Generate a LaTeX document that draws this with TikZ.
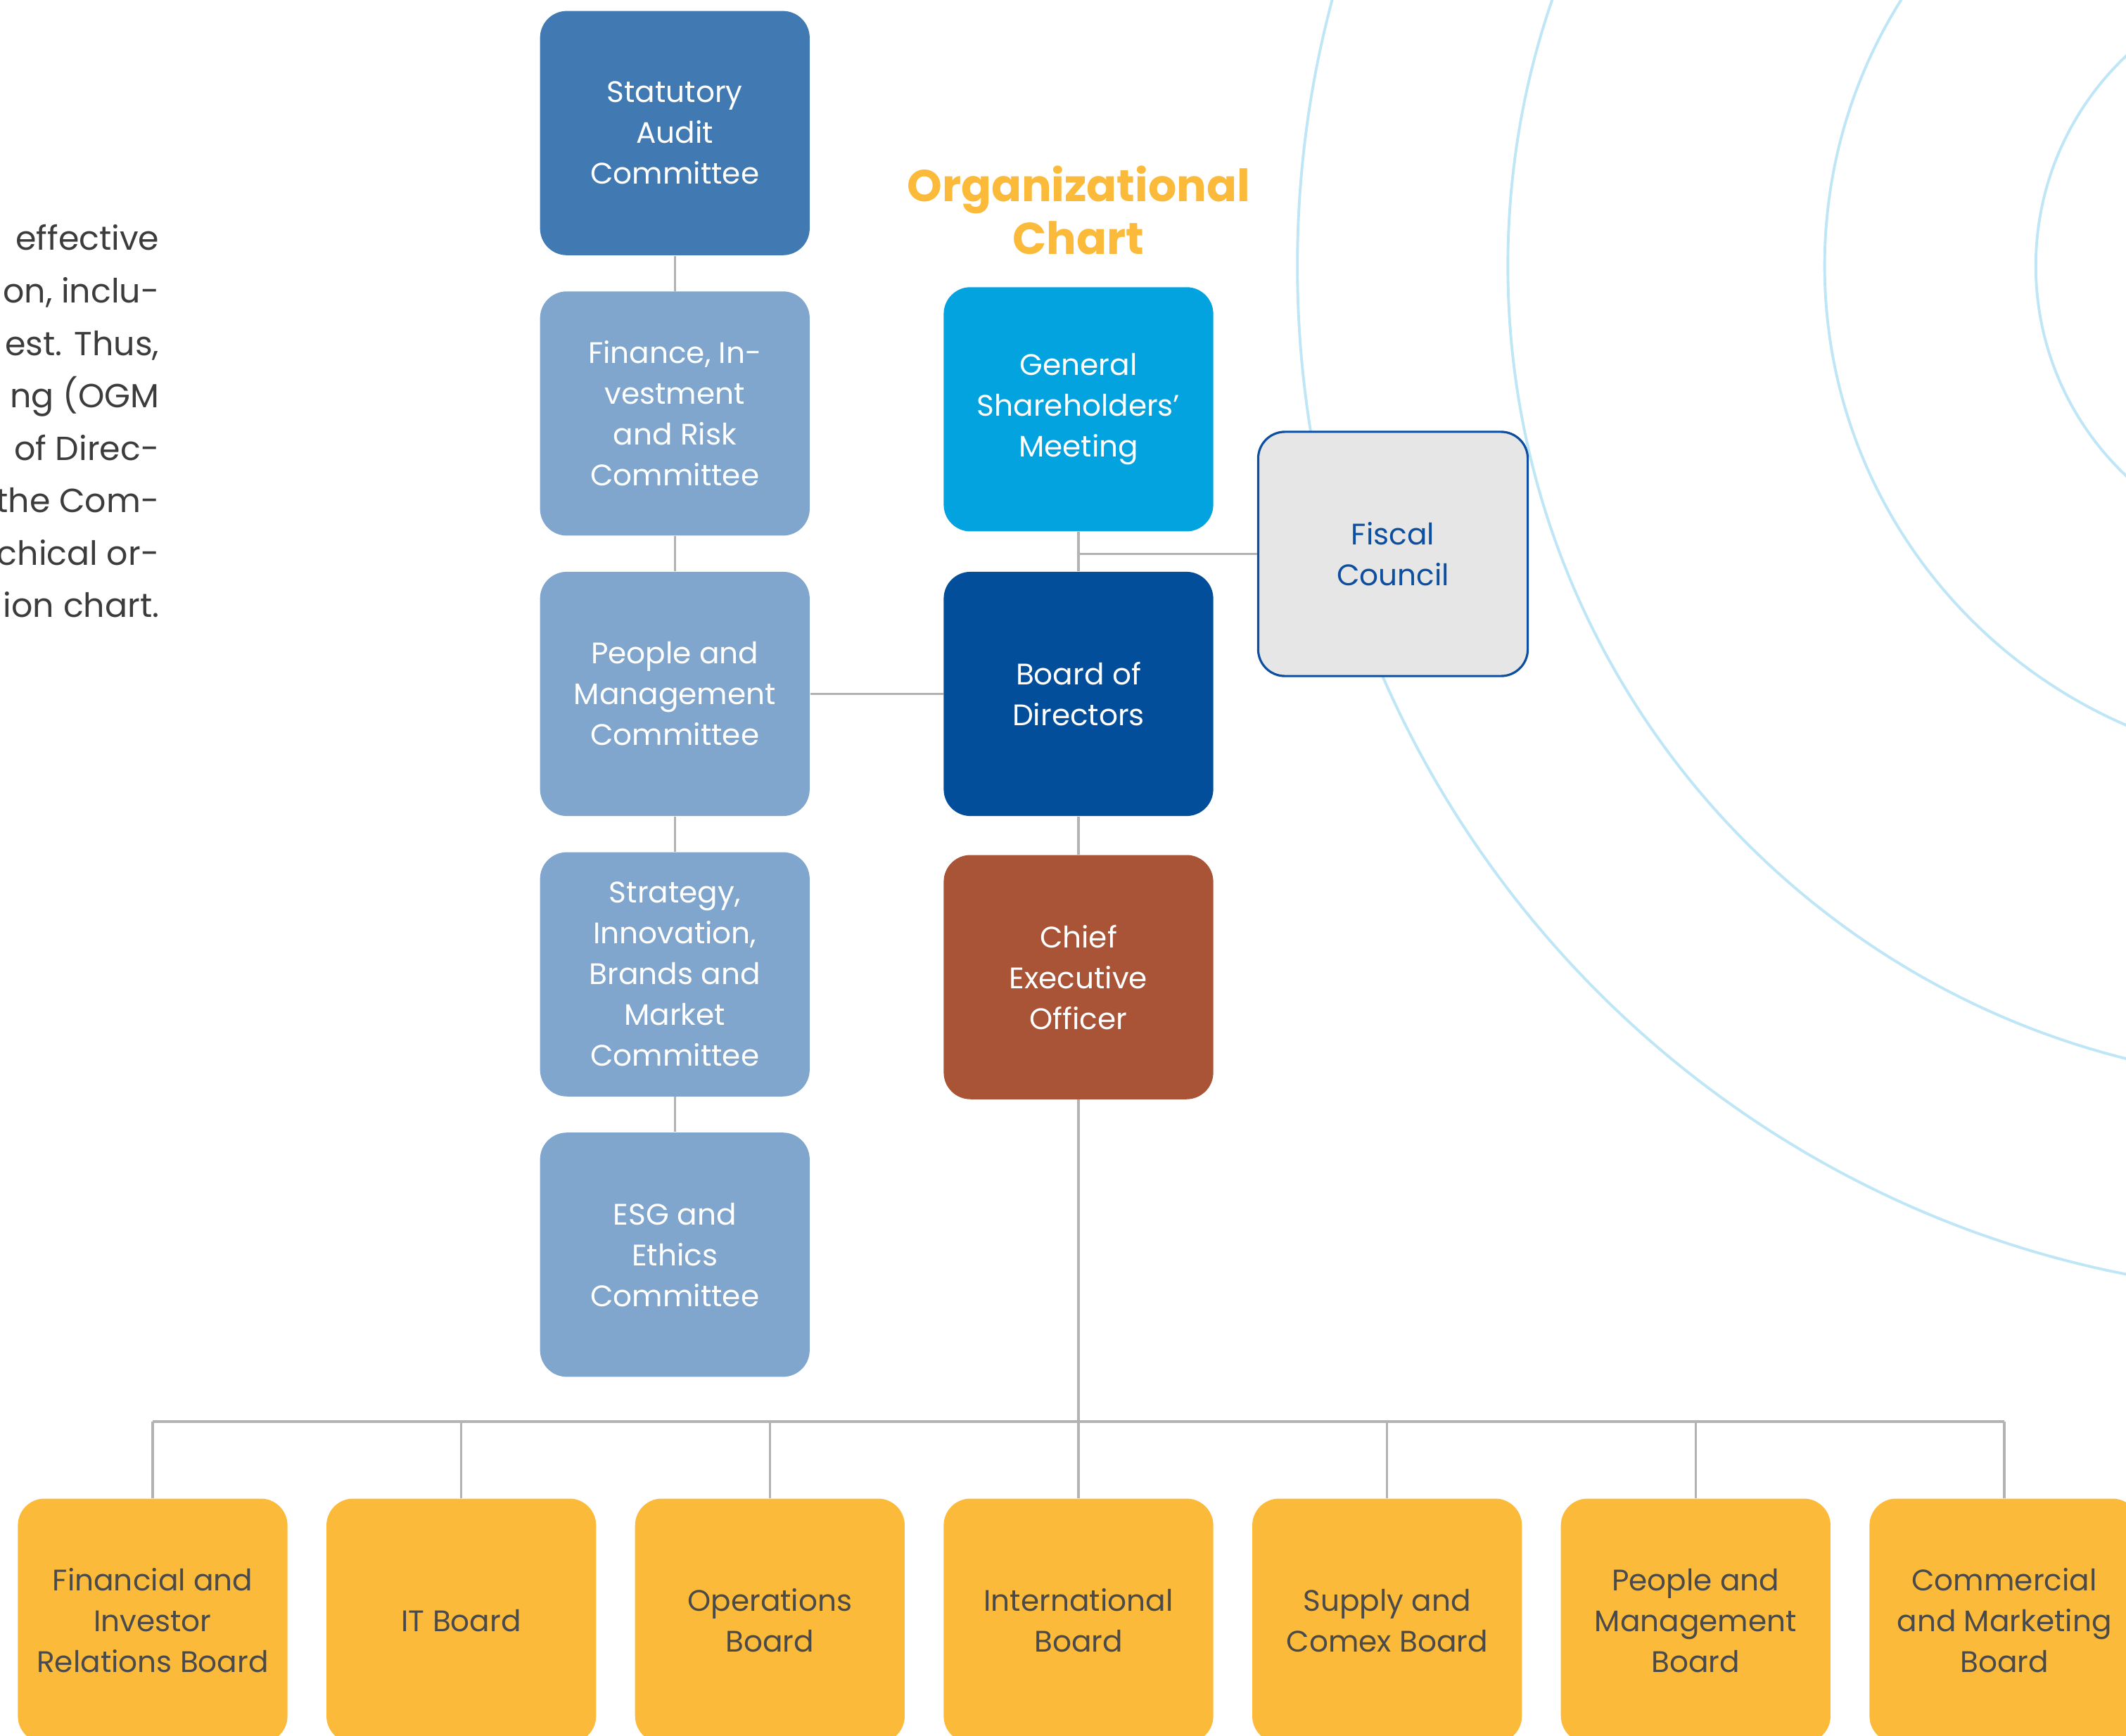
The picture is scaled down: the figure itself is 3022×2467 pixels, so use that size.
\documentclass[tikz,border=0pt]{standalone}
\usepackage{fontspec}
\setmainfont{Poppins}
\usepackage{tikz}
\usetikzlibrary{positioning}

\definecolor{auditblue}{HTML}{4179B3}
\definecolor{commblue}{HTML}{80A6CD}
\definecolor{gsmblue}{HTML}{03A3E0}
\definecolor{bodblue}{HTML}{024E9B}
\definecolor{ceored}{HTML}{A95437}
\definecolor{boardyellow}{HTML}{FBBA39}
\definecolor{boardgray}{HTML}{4A4A4A}
\definecolor{fiscalgray}{HTML}{E6E6E6}
\definecolor{fiscalblue}{HTML}{0C4EA0}
\definecolor{linkgray}{HTML}{B3B3B3}
\definecolor{ringblue}{HTML}{BFE6F6}
\definecolor{titleyellow}{HTML}{FBBA3A}
\definecolor{introgray}{HTML}{3C3C3C}

\begin{document}
\begin{tikzpicture}[
    x=0.01cm, y=-0.01cm,
    node distance=0.5cm,
    box/.style={
        rectangle, rounded corners=0.38cm,
        minimum width=3.83cm, minimum height=3.47cm,
        inner sep=0pt, align=center, text=white,
        font=\fontsize{12}{16.5}\selectfont
    },
    committee/.style={box, fill=commblue},
    board/.style={box, fill=boardyellow, text=boardgray},
    link/.style={draw=linkgray, line width=1pt},
    ring/.style={draw=ringblue, line width=1.1pt}
]
\useasboundingbox (0,0) rectangle (3022,2467);
\clip (0,0) rectangle (3022,2467);

% Background rings
\foreach \r in {14.6cm, 11.61cm, 7.11cm, 4.11cm}
    \draw[ring] (3305,378) circle[radius=\r];

% Intro text, cut at the left edge
\node[anchor=north east, inner sep=0pt, align=right, text=introgray,
      font=\fontsize{13.5}{21.2}\selectfont] (intro) at (227,319)
    {effective\\on, inclu-\\est. Thus,\\ng (OGM\\of Direc-\\the Com-\\chical or-\\ion chart.};

% Middle column
\node[box, fill=bodblue] (bod) at (1533,986.5) {Board of\\Directors};
\node[box, fill=gsmblue, above=0.56cm of bod] (gsm) {General\\Shareholders'\\Meeting};
\node[box, fill=ceored, below=0.54cm of bod] (ceo) {Chief\\Executive\\Officer};
\node[above=0.45cm of gsm, inner sep=0pt, align=center, text=titleyellow,
      font=\fontsize{18}{21.3}\selectfont\bfseries] (title) {Organizational\\Chart};

% Fiscal council
\node[box, fill=fiscalgray, draw=fiscalblue, line width=0.9pt, text=fiscalblue] (fiscal) at (1980,787.5) {Fiscal\\Council};

% Committees
\node[committee, left=1.89cm of bod] (peoplecom) {People and\\Management\\Committee};
\node[committee, above=of peoplecom] (financecom) {Finance, In-\\vestment\\and Risk\\Committee};
\node[box, fill=auditblue, above=of financecom] (auditcom) {Statutory\\Audit\\Committee};
\node[committee, below=of peoplecom] (strategycom) {Strategy,\\Innovation,\\Brands and\\Market\\Committee};
\node[committee, below=of strategycom] (esgcom) {ESG and\\Ethics\\Committee};

% Boards
\node[board, below=5.66cm of ceo] (intlboard) {International\\Board};
\node[board, left=0.54cm of intlboard] (opsboard) {Operations\\Board};
\node[board, left=0.54cm of opsboard] (itboard) {IT Board};
\node[board, left=0.54cm of itboard] (finboard) {Financial and\\Investor\\Relations Board};
\node[board, right=0.54cm of intlboard] (supplyboard) {Supply and\\Comex Board};
\node[board, right=0.54cm of supplyboard] (peopleboard) {People and\\Management\\Board};
\node[board, right=0.54cm of peopleboard] (commboard) {Commercial\\and Marketing\\Board};

% Connectors
\coordinate (bus) at (1533,2021);
\foreach \a/\b in {auditcom/financecom, financecom/peoplecom, peoplecom/strategycom, strategycom/esgcom}
    \draw[link] (\a) -- (\b);
\draw[link] (peoplecom) -- (bod);
\draw[link] (gsm) -- (bod);
\draw[link] (bod) -- (ceo);
\draw[link] (fiscal.west) -- (fiscal.west -| gsm.south);
\draw[link] (ceo) -- (intlboard);
\draw[link] (finboard.north |- bus) -- (commboard.north |- bus);
\foreach \b in {finboard, itboard, opsboard, supplyboard, peopleboard, commboard}
    \draw[link] (\b.north) -- (\b.north |- bus);

\end{tikzpicture}
\end{document}
